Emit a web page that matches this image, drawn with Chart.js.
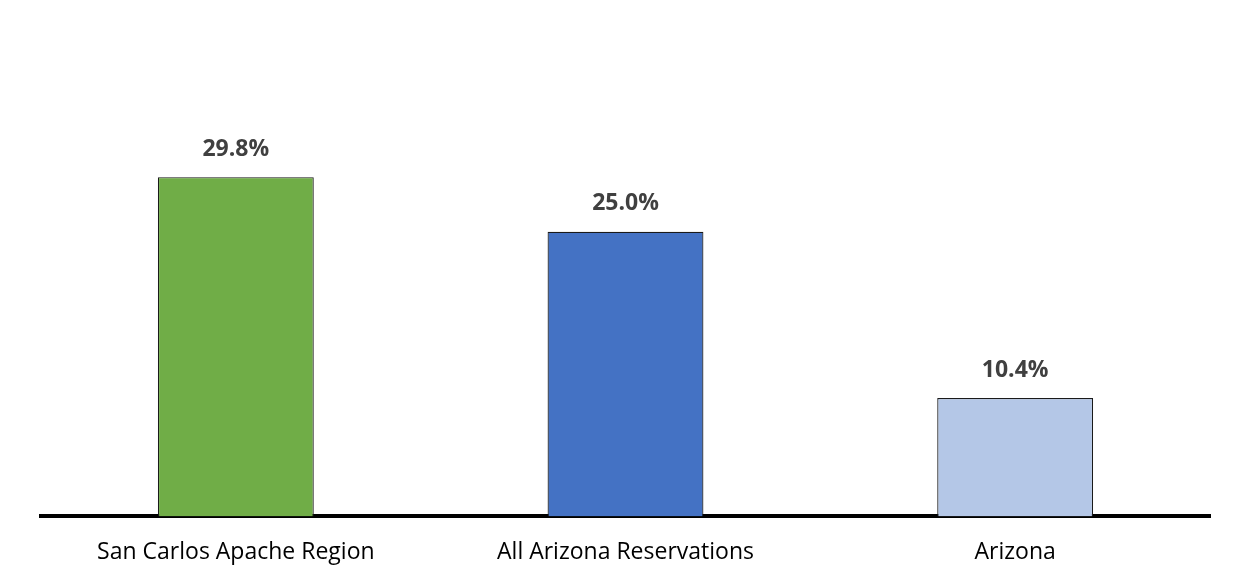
<!DOCTYPE html>
<html>
<head>
<meta charset="utf-8">
<script src="https://cdn.jsdelivr.net/npm/chart.js@4.4.0/dist/chart.umd.min.js"></script>
<style>
  html, body { margin: 0; padding: 0; background: #fff; }
  #wrap { width: 1235px; height: 580px; }
</style>
</head>
<body>
<div id="wrap"><canvas id="myChart" width="1235" height="580"></canvas></div>
<script>
// data
const categories = ["San Carlos Apache Region", "All Arizona Reservations", "Arizona"];
const values = [29.8, 25.0, 10.4];
const barColors = ["#70AD47", "#4472C4", "#B4C7E7"];

// 막대 위 값 표시
const valueLabels = {
    id: "valueLabels",
    afterDatasetsDraw(chart) {
        const ctx = chart.ctx;
        const meta = chart.getDatasetMeta(0);
        ctx.save();
        ctx.font = "bold 23px 'Open Sans', sans-serif";
        ctx.fillStyle = "#404040";
        ctx.textAlign = "center";
        ctx.textBaseline = "middle";
        meta.data.forEach(function(bar, i) {
            ctx.fillText(values[i].toFixed(1) + "%", bar.x, bar.y - 28);
        });
        ctx.restore();
    }
};

new Chart(document.getElementById("myChart").getContext("2d"), {
    type: "bar",
    data: {
        labels: categories,
        datasets: [{
            data: values,
            backgroundColor: barColors,
            borderColor: "#1a1a1a",
            borderWidth: 1.2,
            categoryPercentage: 1.0,
            barPercentage: 0.4,
        }],
    },
    options: {
        responsive: false,
        animation: false,
        layout: { padding: { top: 61, left: 41, right: 25, bottom: 0 } },
        plugins: { legend: { display: false }, tooltip: { enabled: false } },
        scales: {
            x: {
                z: 1,
                grid: { display: false },
                border: { color: "#000", width: 4 },
                ticks: {
                    color: "#000",
                    padding: 14,
                    font: { family: "'Open Sans', sans-serif", size: 23 },
                },
            },
            y: {
                display: false,
                min: 0,
                max: 40,
            },
        },
    },
    plugins: [valueLabels],
});
</script>
</body>
</html>
